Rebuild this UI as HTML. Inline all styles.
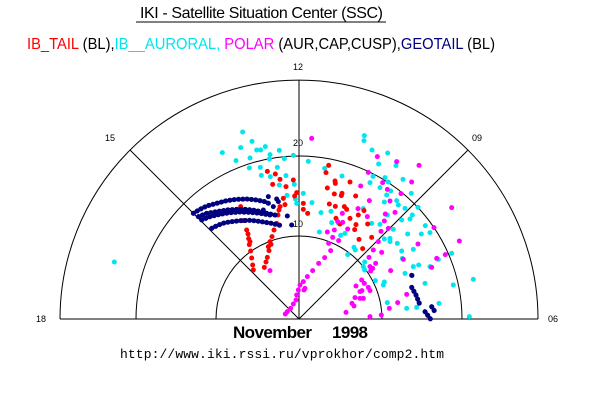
<!DOCTYPE html>
<html><head><meta charset="utf-8"><style>
html,body{margin:0;padding:0;background:#fff;}
svg{display:block;font-family:"Liberation Sans",sans-serif;}
</style></head><body>
<svg width="600" height="400" viewBox="0 0 600 400">
<text x="140" y="18" font-size="16" textLength="243">IKI - Satellite Situation Center (SSC)</text>
<line x1="136" y1="22" x2="386" y2="22" stroke="#000" stroke-width="1"/>
<text x="27" y="49" font-size="16" textLength="468" lengthAdjust="spacingAndGlyphs"><tspan fill="#ff0000">IB_TAIL</tspan> (BL),<tspan fill="#00e5ee">IB__AURORAL, </tspan><tspan fill="#ff00ff">POLAR</tspan> (AUR,CAP,CUSP),<tspan fill="#000080">GEOTAIL</tspan> (BL)</text>
<g fill="none" stroke="#000" stroke-width="1">
<path d="M60 319 A239 239 0 0 1 538 319"/>
<path d="M136 319 A163 163 0 0 1 462 319"/>
<path d="M216 319 A83 83 0 0 1 382 319"/>
<line x1="60" y1="319" x2="538" y2="319"/>
<line x1="299" y1="319" x2="299" y2="80"/>
<line x1="299" y1="319" x2="130" y2="150"/>
<line x1="299" y1="319" x2="468" y2="150"/>
</g>
<g font-size="9" fill="#000">
<text x="293" y="70">12</text><text x="105" y="141">15</text><text x="472" y="141">09</text>
<text x="293" y="146">20</text><text x="293" y="227">10</text>
<text x="36" y="322">18</text><text x="548" y="322">06</text>
</g>
<g transform="translate(50,50) scale(0.33333)">
<g fill="#00e5ee" id="c"></g><g fill="#ff0000" id="r"></g><g fill="#ff00ff" id="m"></g><g fill="#000080" id="n"></g>
<g fill="none" stroke="#000080" stroke-width="15" stroke-linecap="round" stroke-dasharray="1 12">
<polyline points="430,490 450,478 470,468 500,460 530,452 560,448 590,447 620,450 645,455 660,462"/>
<polyline points="445,500 470,490 500,485 530,480 560,478 590,478 620,482 650,490 685,497"/>
<polyline points="455,510 480,500 510,493 540,488 570,486 600,487 630,490 660,495"/>
<polyline points="485,535 505,525 525,518 545,515 570,512 600,511 620,513 640,516 665,520 690,526"/>
<polyline points="1085,676 1095,680"/><polyline points="1085,712 1098,735 1108,760"/>
<polyline points="1145,770 1158,790"/><polyline points="1125,785 1145,812"/>
</g>
</g>
<text x="233" y="338" font-size="17" font-weight="bold" textLength="79">November</text>
<text x="332" y="338" font-size="17" font-weight="bold" textLength="36">1998</text>
<text x="120" y="358" font-size="13" font-family="Liberation Mono,monospace" textLength="324">http://www.iki.rssi.ru/vprokhor/comp2.htm</text>
</svg>
<script>
var D={c:[578,246,517,308,572,293,606,274,558,332,600,324,620,300,632,300,646,290,688,301,660,314,658,327,598,354,631,352,682,352,634,376,661,380,708,377,703,326,730,316,688,405,733,403,711,436,736,447,760,430,740,460,775,334,786,458,824,355,876,378,813,488,843,484,808,546,845,518,866,520,885,550,872,556,943,257,942,272,966,300,1013,309,986,342,1038,347,969,379,1005,383,960,398,990,413,1015,396,1022,423,1010,435,1040,452,1045,465,1065,475,1084,430,1059,388,1104,472,1087,495,1080,507,1055,510,1003,456,940,476,965,520,990,523,1012,495,1030,538,1003,567,1020,565,1020,575,1042,580,1073,552,1090,598,1055,603,1057,625,1114,552,1126,527,1140,548,1165,628,1140,650,1106,645,1090,650,1065,670,1125,700,1205,610,1210,705,1270,688,1258,800,1167,760,1100,772,1070,775,1012,758,1000,705,1003,696,976,692,944,660,944,636,912,592,916,600,893,614,193,636,940,650],
r:[652,364,676,372,668,403,690,388,730,390,708,410,740,428,734,438,700,445,705,464,690,470,687,480,684,495,680,520,672,540,666,560,663,583,657,602,652,622,648,636,643,652,572,470,580,512,590,540,596,566,598,584,602,603,605,624,608,645,610,660,760,460,773,490,760,478,836,346,828,368,855,393,856,400,900,396,832,414,853,432,876,430,874,437,917,438,883,470,890,478,838,462,856,469,858,505,900,505,925,495,942,482,918,524,870,522,953,522,914,539,965,562,927,568,938,596,594,552,600,575,655,590,660,575],
m:[785,265,982,320,1040,335,1107,346,955,367,998,398,1085,396,932,408,1012,418,1053,431,958,452,1020,453,1035,487,1006,492,1003,513,1015,535,993,544,952,500,924,476,877,490,878,517,863,515,853,540,893,537,832,546,848,562,866,572,836,580,842,602,1205,473,1152,533,1228,573,1104,582,1186,614,1160,625,1060,628,1145,652,1022,662,970,600,985,575,995,607,957,622,960,650,968,655,977,640,962,663,935,690,943,700,955,712,930,725,936,722,918,708,915,743,930,745,940,745,906,760,912,768,960,722,888,787,960,800,994,795,1018,775,1043,758,1070,733,824,623,806,640,788,662,772,680,760,695,750,705,745,720,740,735,738,750,730,762,722,775,712,785,706,792,765,715,762,720,660,662],
n:[655,440,680,447,685,455,712,498,725,525,670,470,640,480]};
var NS="http://www.w3.org/2000/svg";
for(var k in D){var g=document.getElementById(k);for(var i=0;i+1<D[k].length;i+=2){var c=document.createElementNS(NS,"circle");c.setAttribute("cx",D[k][i]);c.setAttribute("cy",D[k][i+1]);c.setAttribute("r","7.5");g.appendChild(c);}}
</script>
</body></html>
